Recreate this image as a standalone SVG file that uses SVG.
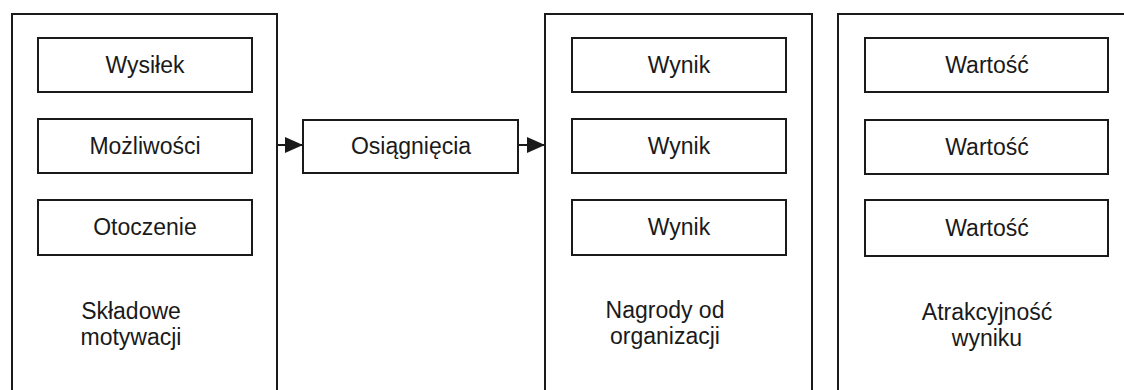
<svg xmlns="http://www.w3.org/2000/svg" width="1124" height="390" viewBox="0 0 1124 390">
<defs>
<style>
.box{fill:none;stroke:#1a1a1a;stroke-width:2}
.t{font-family:"Liberation Sans",Arial,sans-serif;font-size:23px;fill:#1a1a1a;text-anchor:middle}
.c{fill:none;stroke:#1a1a1a;stroke-width:2}
</style>
<marker id="ah" viewBox="0 0 18 18" refX="18" refY="9" markerWidth="18" markerHeight="18" markerUnits="userSpaceOnUse" orient="auto">
<path d="M0,1 L18,9 L0,17 Z" fill="#1a1a1a"/>
</marker>
</defs>
<rect width="1124" height="390" fill="#ffffff"/>
<g id="skladowe">
<rect class="box" x="12" y="14" width="265" height="390"/>
<rect class="box" x="38" y="38" width="214" height="54"/>
<text class="t" x="145" y="73">Wysiłek</text>
<rect class="box" x="38" y="119" width="214" height="54"/>
<text class="t" x="145" y="154">Możliwości</text>
<rect class="box" x="38" y="200" width="214" height="55"/>
<text class="t" x="145" y="235">Otoczenie</text>
<text class="t" x="131" y="319">Składowe</text>
<text class="t" x="131" y="345">motywacji</text>
</g>
<g id="osiagniecia">
<rect class="box" x="303" y="120" width="215" height="53"/>
<text class="t" x="411" y="154">Osiągnięcia</text>
</g>
<g id="nagrody">
<rect class="box" x="545" y="14" width="267" height="390"/>
<rect class="box" x="572" y="38" width="214" height="54"/>
<text class="t" x="679" y="73">Wynik</text>
<rect class="box" x="572" y="119" width="214" height="54"/>
<text class="t" x="679" y="154">Wynik</text>
<rect class="box" x="572" y="200" width="214" height="55"/>
<text class="t" x="679" y="235">Wynik</text>
<text class="t" x="665" y="318">Nagrody od</text>
<text class="t" x="665" y="344">organizacji</text>
</g>
<g id="atrakcyjnosc">
<rect class="box" x="838" y="14" width="300" height="390"/>
<rect class="box" x="865" y="38" width="243" height="54"/>
<text class="t" x="987" y="73">Wartość</text>
<rect class="box" x="865" y="120" width="243" height="54"/>
<text class="t" x="987" y="155">Wartość</text>
<rect class="box" x="865" y="200" width="243" height="56"/>
<text class="t" x="987" y="236">Wartość</text>
<text class="t" x="987" y="320">Atrakcyjność</text>
<text class="t" x="987" y="346">wyniku</text>
</g>
<g id="connectors">
<line class="c" x1="277" y1="145" x2="303" y2="145" marker-end="url(#ah)"/>
<line class="c" x1="518" y1="145" x2="545" y2="145" marker-end="url(#ah)"/>
</g>
</svg>
